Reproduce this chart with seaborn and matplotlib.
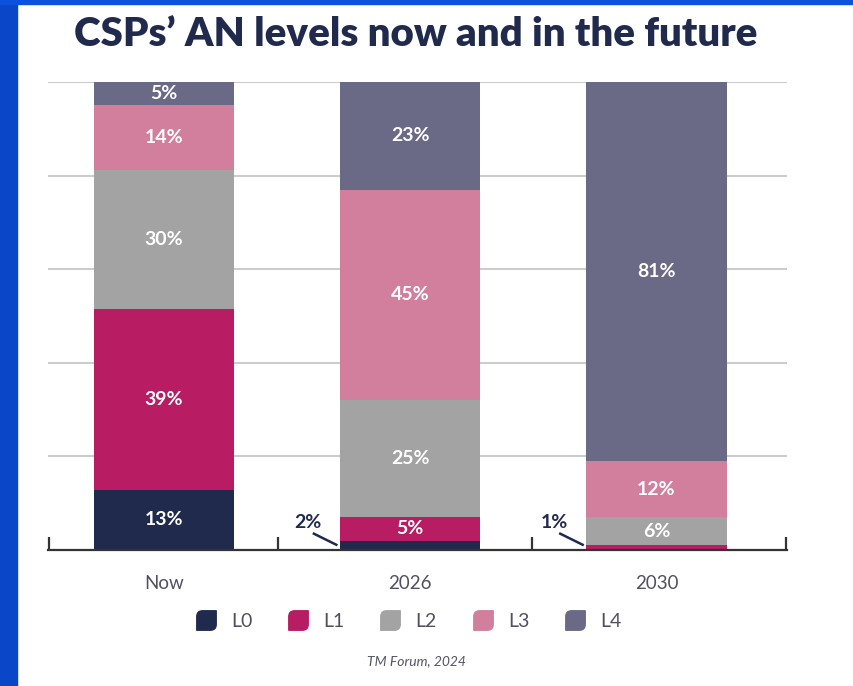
import numpy as np
import pandas as pd
import matplotlib
matplotlib.use("Agg")
import matplotlib.pyplot as plt
from matplotlib.path import Path
from matplotlib.lines import Line2D
from matplotlib.patches import Rectangle
import seaborn as sns

periods = ["Now", "2026", "2030"]
levels = ["L0", "L1", "L2", "L3", "L4"]
l0 = [13, 2, 0]
l1 = [39, 5, 1]
l2 = [30, 25, 6]
l3 = [14, 45, 12]
l4 = [5, 23, 81]
colors = ["#1f2a4d", "#b81c63", "#a3a3a3", "#d27f9d", "#6a6a87"]

sns.set_style("white")
plt.rcParams["font.family"] = ["Lato", "DejaVu Sans"]

shares = np.array([l0, l1, l2, l3, l4], dtype=float)
shares_norm = shares / shares.sum(axis=0) * 100
cum = np.cumsum(shares_norm, axis=0)

fig = plt.figure(figsize=(8.54, 6.86), dpi=100)
ax = fig.add_axes([48 / 854, 1 - 550 / 686, (787 - 48) / 854, (550 - 82) / 686])

bar_w = 0.57
# stacked bars: draw cumulative totals from top level down
for i in range(len(levels) - 1, -1, -1):
    d = pd.DataFrame({"period": periods, "top": cum[i]})
    sns.barplot(data=d, x="period", y="top", color=colors[i], width=bar_w,
                saturation=1, ax=ax, zorder=2, linewidth=0)

ax.set_xlim(-0.47, 2.53)
ax.set_ylim(0, 100)
ax.set_yticks([20, 40, 60, 80, 100])
ax.yaxis.grid(True, color="#cccccc", linewidth=1.5, zorder=0)
ax.set_axisbelow(True)
ax.tick_params(axis="y", left=False, labelleft=False)
for s in ["top", "left", "right"]:
    ax.spines[s].set_visible(False)
ax.spines["bottom"].set_color("#333333")
ax.spines["bottom"].set_linewidth(1.6)
ax.set_xlabel("")
ax.set_ylabel("")

ax.set_xticks(range(len(periods)))
ax.set_xticklabels(periods, fontsize=13.5, color="#505060")
ax.tick_params(axis="x", which="major", bottom=False, length=0, pad=18)
ax.set_xticks([-0.465, 0.465, 1.495, 2.525], minor=True)
ax.tick_params(axis="x", which="minor", bottom=True, direction="in", length=9.5,
               width=1.6, color="#333333")

# segment labels
for j in range(len(periods)):
    for i in range(len(levels)):
        v = shares[i, j]
        if v == 0:
            continue
        bottom = cum[i, j] - shares_norm[i, j]
        mid = bottom + shares_norm[i, j] / 2
        if v >= 3:
            ax.text(j, mid, f"{int(v)}%", ha="center", va="center", color="white",
                    fontsize=14, fontweight="bold", zorder=5)
        else:
            left = j - bar_w / 2
            ax.text(left - 0.13, 5.8, f"{int(v)}%", ha="center", va="center",
                    color="#1f2a4d", fontsize=14, fontweight="bold", zorder=5)
            ax.plot([left - 0.11, left - 0.01], [3.6, 1.0], color="#1f2a4d",
                    lw=1.8, solid_capstyle="butt", zorder=5, clip_on=False)

fig.text(0.487, 0.949, "CSPs\u2019 AN levels now and in the future", ha="center",
         va="center", fontsize=29, fontweight="heavy", color="#1f2a4d")


def leaf_marker():
    verts = [(-0.5, -0.5), (0.2, -0.5), (0.5, -0.5), (0.5, -0.2), (0.5, 0.5),
             (-0.2, 0.5), (-0.5, 0.5), (-0.5, 0.2), (-0.5, -0.5)]
    codes = [Path.MOVETO, Path.LINETO, Path.CURVE3, Path.CURVE3, Path.LINETO,
             Path.LINETO, Path.CURVE3, Path.CURVE3, Path.CLOSEPOLY]
    return Path(verts, codes)


handles = [Line2D([0], [0], marker=leaf_marker(), linestyle="none", markersize=14,
                  markerfacecolor=c, markeredgecolor=c) for c in colors]
leg = fig.legend(handles, levels, loc="center", bbox_to_anchor=(0.473, 0.094), ncol=5,
                 frameon=False, handletextpad=0.3, columnspacing=1.35,
                 prop={"size": 14})
for t in leg.get_texts():
    t.set_color("#505060")

fig.text(0.488, 0.036, "TM Forum, 2024", ha="center", va="center", fontsize=10,
         style="italic", color="#555566")

# blue frame of the source slide
fig.add_artist(Rectangle((0, 0), 17 / 854, 1, transform=fig.transFigure,
                         color="#0a46c8", zorder=10))
fig.add_artist(Rectangle((0, 1 - 4 / 686), 1, 4 / 686, transform=fig.transFigure,
                         color="#0a52dc", zorder=10))

fig.savefig("out.png", dpi=100)
